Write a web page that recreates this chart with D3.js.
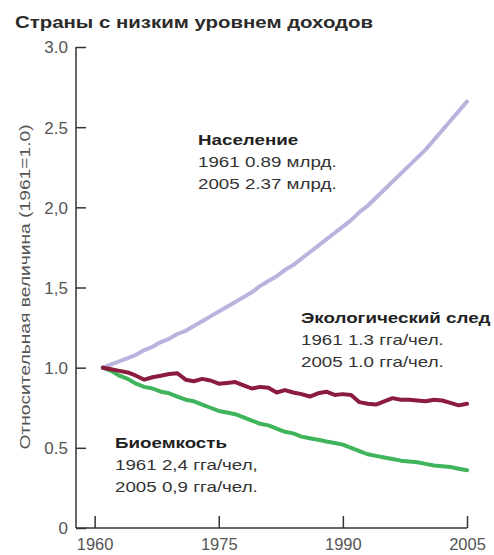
<!DOCTYPE html>
<html><head><meta charset="utf-8">
<script src="https://cdn.jsdelivr.net/npm/d3@7/dist/d3.min.js"></script>
<style>body{margin:0;background:#fff}svg{display:block}</style>
</head><body>
<svg id="c" width="494" height="555"></svg>
<script>
const years = d3.range(1961, 2006);
const population = [1.00,1.02,1.04,1.06,1.08,1.11,1.13,1.16,1.18,1.21,1.23,1.26,1.29,1.32,1.35,1.38,1.41,1.44,1.47,1.51,1.54,1.57,1.61,1.64,1.68,1.72,1.76,1.80,1.84,1.88,1.92,1.97,2.01,2.06,2.11,2.16,2.21,2.26,2.31,2.36,2.42,2.48,2.54,2.60,2.66];
const footprint = [1.00,0.99,0.98,0.97,0.95,0.925,0.94,0.95,0.96,0.965,0.925,0.915,0.93,0.92,0.90,0.905,0.91,0.89,0.87,0.88,0.875,0.845,0.86,0.845,0.835,0.82,0.84,0.85,0.83,0.835,0.83,0.785,0.775,0.77,0.79,0.81,0.80,0.80,0.795,0.79,0.80,0.795,0.78,0.765,0.775];
const biocapacity = [1.00,0.98,0.95,0.93,0.90,0.88,0.87,0.85,0.84,0.82,0.80,0.79,0.77,0.75,0.73,0.72,0.71,0.69,0.67,0.65,0.64,0.62,0.60,0.59,0.57,0.56,0.55,0.54,0.53,0.52,0.50,0.48,0.46,0.45,0.44,0.43,0.42,0.415,0.41,0.40,0.39,0.385,0.38,0.37,0.36];
const xTicks = [1960, 1975, 1990, 2005];
const yTicks = [0, 0.5, 1.0, 1.5, 2.0, 2.5, 3.0];
const yTickLabels = ["0", "0.5", "1.0", "1,5", "2,0", "2.5", "3.0"];
const title = "Страны с низким уровнем доходов";
const yTitle = "Относительная величина (1961=1.0)";
const seriesNames = ["Население", "Экологический след", "Биоемкость"];
const notes = [
  ["1961 0.89 млрд.", "2005 2.37 млрд."],
  ["1961 1.3 гга/чел.", "2005 1.0 гга/чел."],
  ["1961 2,4 гга/чел,", "2005 0,9 гга/чел."]
];

const svg = d3.select("#c");
const font = "'Liberation Sans', Arial, sans-serif";
const x = d3.scaleLinear().domain([1957.75, 2005]).range([76, 467]);
const y = d3.scaleLinear().domain([0, 3]).range([528, 47]);

function stretch(sel, f) {
  sel.each(function () {
    const w = this.getComputedTextLength();
    d3.select(this).attr("textLength", w * f).attr("lengthAdjust", "spacingAndGlyphs");
  });
}

// title
svg.append("text").attr("x", 15).attr("y", 28).attr("font-family", font)
  .attr("font-weight", "bold").attr("font-size", 17).attr("fill", "#2b2b2b").text(title)
  .call(stretch, 1.2);

// y axis
const ya = svg.append("g").attr("transform", "translate(76,0)")
  .call(d3.axisRight(y).tickValues(yTicks).tickSize(10).tickFormat((d, i) => yTickLabels[i]));
ya.select(".domain").attr("d", `M0,${y(3)}V${y(0)}`).attr("stroke", "#333").attr("stroke-width", 1.5);
ya.selectAll(".tick line").attr("stroke", "#333").attr("stroke-width", 1.5);
ya.selectAll(".tick text").attr("x", -8).attr("text-anchor", "end").attr("dy", "0.35em")
  .attr("font-family", font).attr("font-size", 17).attr("fill", "#555");

// x axis
const xa = svg.append("g").attr("transform", "translate(0,528)")
  .call(d3.axisTop(x).tickValues(xTicks).tickSize(12).tickFormat(d3.format("d")));
xa.select(".domain").attr("d", `M${x.range()[0]},0H${x.range()[1]}`).attr("stroke", "#333").attr("stroke-width", 1.5);
xa.selectAll(".tick line").attr("stroke", "#333").attr("stroke-width", 1.5);
xa.selectAll(".tick text").attr("y", 22).attr("dy", 0)
  .attr("font-family", font).attr("font-size", 16.5).attr("fill", "#555");

// y title
svg.append("text").attr("transform", "translate(30,287) rotate(-90)").attr("text-anchor", "middle")
  .attr("font-family", font).attr("font-size", 15.5).attr("fill", "#555").text(yTitle)
  .call(stretch, 1.24);

// lines
const line = d3.line().x((d, i) => x(years[i])).y(d => y(d));
const series = [
  {v: population, c: "#b9b4de"},
  {v: biocapacity, c: "#3fb45b"},
  {v: footprint, c: "#8c1c3d"}
];
series.forEach(s => {
  svg.append("path").datum(s.v).attr("d", line).attr("fill", "none")
    .attr("stroke", s.c).attr("stroke-width", 4).attr("stroke-linejoin", "round").attr("stroke-linecap", "round");
});

// annotations
const pos = [[198, 145], [301, 323], [115, 448]];
pos.forEach((p, i) => {
  const g = svg.append("g").attr("font-family", font).attr("font-size", 15).attr("fill", "#333");
  g.append("text").attr("x", p[0]).attr("y", p[1]).attr("font-weight", "bold").attr("fill", "#222").text(seriesNames[i]);
  notes[i].forEach((n, j) => g.append("text").attr("x", p[0]).attr("y", p[1] + 22 * (j + 1)).text(n));
  g.selectAll("text").call(stretch, 1.25);
});
</script>
</body></html>
